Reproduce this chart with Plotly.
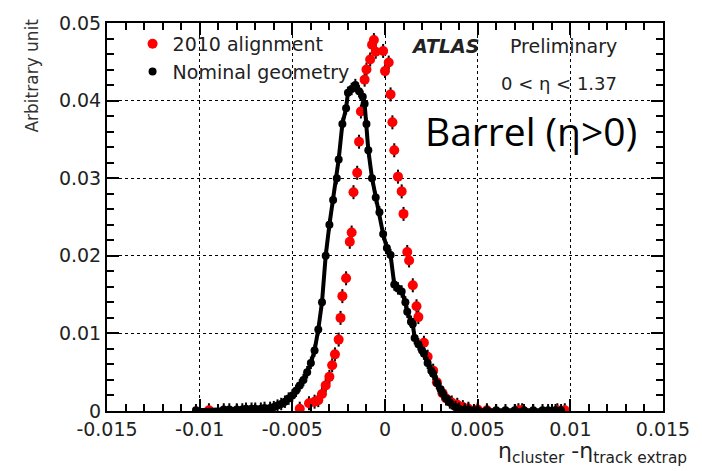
import plotly.graph_objects as go

# 2010 alignment (red)
red_x = [-0.0095, -0.0046, -0.0041, -0.0038, -0.0036, -0.0034, -0.0032, -0.0030, -0.00285, -0.0027,
         -0.0025, -0.0024, -0.0023, -0.0021, -0.0019, -0.0018, -0.0017, -0.0015, -0.0014, -0.0013,
         -0.0011, -0.0010, -0.0008, -0.0007, -0.0006, -0.0005, -0.0001, 0.0000, 0.0002, 0.0003,
         0.0004, 0.0005, 0.0007, 0.0009, 0.0010, 0.0012, 0.0013, 0.0015, 0.0017, 0.0018,
         0.0021, 0.0023, 0.0026, 0.0028, 0.0031, 0.0033, 0.0036, 0.0039, 0.0042, 0.0045,
         0.0050, 0.0055, 0.0072, 0.0074, 0.0093, 0.0097]
red_y = [0.0001, 0.0003, 0.0010, 0.0012, 0.0014, 0.0022, 0.0033, 0.0044, 0.0059, 0.0073,
         0.0092, 0.0120, 0.0148, 0.0171, 0.0218, 0.0230, 0.0282, 0.0307, 0.0347, 0.0386,
         0.0427, 0.0440, 0.0453, 0.0472, 0.0478, 0.0463, 0.0464, 0.0438, 0.0449, 0.0408,
         0.0372, 0.0336, 0.0302, 0.0283, 0.0254, 0.0205, 0.0194, 0.0162, 0.0135, 0.0121,
         0.0088, 0.0070, 0.0052, 0.0037, 0.0023, 0.0016, 0.0011, 0.0008, 0.0005, 0.0003,
         0.0002, 0.0001, 0.0001, 0.0001, 0.0001, 0.0001]

# Nominal geometry (black)
blk_x = [-0.0102, -0.0087, -0.0084, -0.0080, -0.0077, -0.0075, -0.0072, -0.0070, -0.0067, -0.0065,
         -0.0062, -0.0060, -0.0058, -0.0056, -0.0054,
         -0.0052, -0.0050, -0.0048, -0.0046, -0.0044, -0.0042, -0.0040, -0.0038, -0.0036, -0.0034,
         -0.0032, -0.0030, -0.0028, -0.0026, -0.0025, -0.0023, -0.0021, -0.0020, -0.0018, -0.0016,
         -0.0014, -0.0012, -0.0011, -0.0010, -0.0009, -0.0007, -0.0005, -0.0003, -0.0001, 0.0001,
         0.0003, 0.0005, 0.0007, 0.0009, 0.0011, 0.0012, 0.0014, 0.0015, 0.0016, 0.0018,
         0.0020, 0.0021, 0.0023, 0.0025, 0.0026, 0.0028, 0.0030, 0.0031, 0.0033, 0.0035,
         0.0038, 0.0040, 0.0043, 0.0045, 0.0048, 0.0050, 0.0055, 0.0060, 0.0065, 0.0070,
         0.0075, 0.0080, 0.0085, 0.0088, 0.0092, 0.0095]
blk_y = [0.0001, 0.0002, 0.0002, 0.0002, 0.0002, 0.0003, 0.0003, 0.0003, 0.0003, 0.0004,
         0.0004, 0.0005, 0.0007, 0.0009, 0.0012,
         0.0016, 0.0020, 0.0026, 0.0033, 0.0040, 0.0050, 0.0062, 0.0078, 0.0105, 0.0140,
         0.0200, 0.0240, 0.0272, 0.0300, 0.0324, 0.0370, 0.0390, 0.0410, 0.0415, 0.0420,
         0.0412, 0.0405, 0.0396, 0.0370, 0.0336, 0.0300, 0.0275, 0.0256, 0.0228, 0.0210,
         0.0201, 0.0163, 0.0158, 0.0154, 0.0140, 0.0128, 0.0115, 0.0112, 0.0094, 0.0086,
         0.0078, 0.0074, 0.0062, 0.0052, 0.0048, 0.0036, 0.0028, 0.0023, 0.0016, 0.0011,
         0.0005, 0.0003, 0.0002, 0.0002, 0.0001, 0.0001, 0.0001, 0.0001, 0.0001, 0.0001,
         0.0001, 0.0001, 0.0001, 0.0001, 0.0001, 0.0001]

x_ticks = [-0.015, -0.01, -0.005, 0, 0.005, 0.01, 0.015]
x_tick_labels = ["-0.015", "-0.01", "-0.005", "0", "0.005", "0.01", "0.015"]
y_ticks = [0, 0.01, 0.02, 0.03, 0.04, 0.05]
y_tick_labels = ["0", "0.01", "0.02", "0.03", "0.04", "0.05"]

FONT = "DejaVu Sans, sans-serif"
TXT = "#222"

fig = go.Figure()

fig.add_trace(go.Scatter(
    x=red_x, y=red_y, mode="markers", name="2010 alignment",
    marker=dict(color="#ff0000", size=10, symbol="circle"),
    error_y=dict(type="constant", value=0.0009, color="black", thickness=2, width=0),
))
fig.add_trace(go.Scatter(
    x=blk_x, y=blk_y, mode="lines", showlegend=False,
    line=dict(color="black", width=4),
))
fig.add_trace(go.Scatter(
    x=blk_x, y=blk_y, mode="markers", name="Nominal geometry",
    marker=dict(color="black", size=8, symbol="circle"),
    error_y=dict(type="constant", value=0.0008, color="black", thickness=2, width=0),
))

axis_common = dict(
    showline=True, linecolor="black", linewidth=2, mirror="ticks",
    ticks="inside", ticklen=12, tickwidth=1.5, tickcolor="black",
    showgrid=True, gridcolor="black", griddash="dot", gridwidth=1,
    zeroline=False,
    tickfont=dict(family=FONT, size=19, color=TXT),
)

fig.update_xaxes(
    range=[-0.015, 0.015], tickvals=x_ticks, ticktext=x_tick_labels,
    minor=dict(dtick=0.001, ticks="inside", ticklen=7, tickcolor="black", showgrid=False),
    **axis_common,
)
fig.update_yaxes(
    range=[0, 0.05], tickvals=y_ticks, ticktext=y_tick_labels,
    minor=dict(dtick=0.002, ticks="inside", ticklen=7, tickcolor="black", showgrid=False),
    **axis_common,
)

fig.update_layout(
    width=702, height=471,
    margin=dict(l=107, r=28, t=18, b=60),
    plot_bgcolor="white", paper_bgcolor="white",
    showlegend=True,
    legend=dict(x=0.046, y=0.995, xanchor="left", yanchor="top",
                bgcolor="rgba(0,0,0,0)", font=dict(family=FONT, size=19, color=TXT),
                itemwidth=30, tracegroupgap=0),
    annotations=[
        dict(text="Arbitrary unit", xref="paper", yref="paper",
             x=(31 - 107) / 567, y=(411 - 11) / 393, xanchor="center", yanchor="top",
             textangle=-90, showarrow=False, font=dict(family=FONT, size=17, color="#333")),
        dict(text="<b><i>ATLAS</i></b>", xref="paper", yref="paper",
             x=(415 - 107) / 567, y=(411 - 41) / 393, xanchor="left", yanchor="middle",
             showarrow=False, font=dict(family=FONT, size=19, color=TXT)),
        dict(text="Preliminary", xref="paper", yref="paper",
             x=(516 - 107) / 567, y=(411 - 41) / 393, xanchor="left", yanchor="middle",
             showarrow=False, font=dict(family=FONT, size=19, color=TXT)),
        dict(text="0 < η < 1.37", xref="paper", yref="paper",
             x=(507 - 107) / 567, y=(411 - 79) / 393, xanchor="left", yanchor="middle",
             showarrow=False, font=dict(family=FONT, size=18, color=TXT)),
        dict(text="Barrel (η>0)", xref="paper", yref="paper",
             x=(429 - 107) / 567, y=(411 - 127) / 393, xanchor="left", yanchor="middle",
             showarrow=False, font=dict(family="Open Sans, sans-serif", size=39, color="black")),
        dict(text="η<sub>cluster</sub> -η<sub>track extrap</sub>", xref="paper", yref="paper",
             x=(701 - 107) / 567, y=-(470 - 411) / 393, xanchor="right", yanchor="bottom",
             showarrow=False, font=dict(family=FONT, size=22, color=TXT)),
    ],
)

fig.write_html("out.html")
